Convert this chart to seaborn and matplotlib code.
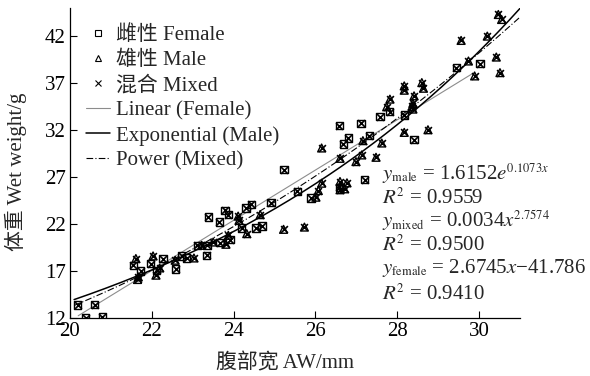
import numpy as np
import pandas as pd
import matplotlib
matplotlib.use("Agg")
import matplotlib.pyplot as plt
import seaborn as sns
from matplotlib.lines import Line2D
try:
    import matplotlib._mathtext as _mt
    _mt.SHRINK_FACTOR = 0.6
except Exception:
    pass

# ---- data ----
female_x = [20.19, 20.38, 20.60, 20.79, 21.55, 21.73, 21.97, 22.27, 22.12, 22.58,
            22.73, 22.85, 23.11, 23.34, 23.35, 23.38, 23.65, 23.67, 23.79, 23.87,
            23.91, 24.20, 24.30, 24.43, 24.55, 24.69, 24.91, 25.23, 25.56, 25.89,
            26.58, 27.20, 26.58, 26.68, 26.80, 27.11, 27.32, 27.58, 27.81, 28.17,
            28.41, 29.44, 30.02]
female_y = [13.38, 12.03, 13.41, 12.14, 17.62, 17.02, 17.80, 18.33, 17.09, 17.20,
            18.61, 18.39, 19.74, 18.68, 19.74, 22.74, 22.21, 20.03, 23.45, 23.00,
            20.35, 21.58, 23.70, 24.09, 21.58, 21.79, 24.27, 27.80, 25.47, 24.76,
            25.92, 26.71, 32.47, 30.53, 31.16, 32.71, 31.41, 33.42, 33.95, 33.60,
            30.98, 38.65, 39.07]
male_x = [21.61, 21.67, 21.65, 22.03, 22.10, 22.19, 22.57, 23.03, 23.22, 23.50,
          23.81, 23.87, 24.11, 24.13, 24.32, 24.65, 25.22, 25.73, 26.01, 26.07,
          26.15, 26.15, 26.60, 26.60, 26.77, 26.71, 26.60, 26.99, 27.13, 27.16,
          27.48, 27.62, 27.74, 27.82, 28.17, 28.17, 28.17, 28.38, 28.36, 28.38,
          28.41, 28.60, 28.64, 28.75, 29.56, 29.74, 29.89, 30.20, 30.42, 30.47,
          30.55, 30.51]
male_y = [18.33, 16.38, 16.10, 18.61, 16.56, 17.33, 18.15, 18.39, 19.74, 20.09,
          19.85, 20.80, 22.85, 22.39, 20.98, 23.00, 21.44, 21.68, 24.86, 25.57,
          26.35, 30.10, 26.53, 25.65, 26.39, 25.75, 29.00, 28.65, 29.36, 30.88,
          29.11, 30.63, 34.48, 35.30, 31.76, 36.71, 36.25, 34.85, 34.53, 34.24,
          35.65, 37.06, 36.46, 32.04, 41.55, 39.36, 37.77, 42.01, 39.78, 44.31,
          43.78, 38.12]

# fitted models shown on the chart
lin_slope, lin_icpt = 2.6745, -41.786          # female linear
exp_a, exp_b = 1.6152, 0.1073                  # male exponential
pow_a, pow_b = 0.0034, 2.7574                  # mixed power
fit_ranges = {"female": (20.2, 29.85), "male": (20.1, 31.0), "mixed": (20.1, 31.0)}

x_ticks = [20, 22, 24, 26, 28, 30]
y_ticks = [12, 17, 22, 27, 32, 37, 42]

sns.set_style("ticks")
plt.rcParams["font.family"] = ["Liberation Serif", "Noto Sans CJK SC"]
plt.rcParams["mathtext.fontset"] = "stix"

W, H = 590, 376
fig = plt.figure(figsize=(W / 100, H / 100), dpi=100)
ax = fig.add_axes([70 / W, 1 - 318 / H, 450 / W, 310 / H])

df_f = pd.DataFrame({"x": female_x, "y": female_y})
df_m = pd.DataFrame({"x": male_x, "y": male_y})
df_mix = pd.concat([df_f, df_m], ignore_index=True)

sns.scatterplot(data=df_f, x="x", y="y", marker="s", s=28, facecolor="none",
                edgecolor="black", linewidth=1.0, ax=ax, zorder=3)
sns.scatterplot(data=df_m, x="x", y="y", marker="^", s=32, facecolor="none",
                edgecolor="black", linewidth=1.0, ax=ax, zorder=3)
sns.scatterplot(data=df_mix, x="x", y="y", marker="x", s=24, color="black",
                linewidth=1.2, ax=ax, zorder=4)

dashdot = (0, (6, 2, 1, 2))
xf = np.linspace(*fit_ranges["female"], 100)
xm = np.linspace(*fit_ranges["male"], 200)
xx = np.linspace(*fit_ranges["mixed"], 200)
sns.lineplot(x=xf, y=lin_slope * xf + lin_icpt, color="0.55", lw=0.8, ax=ax)
sns.lineplot(x=xm, y=exp_a * np.exp(exp_b * xm), color="black", lw=1.1, ax=ax)
sns.lineplot(x=xx, y=pow_a * xx ** pow_b, color="black", lw=0.8,
             linestyle=dashdot, ax=ax)

ax.set_xlim(20, 31)
ax.set_ylim(12, 45)
ax.set_xticks(x_ticks)
ax.set_yticks(y_ticks)
ax.tick_params(direction="in", length=5, width=0.8, labelsize=15, colors="black",
               pad=3)
for s in ["top", "right"]:
    ax.spines[s].set_visible(False)
for s in ["left", "bottom"]:
    ax.spines[s].set_linewidth(0.9)
    ax.spines[s].set_color("black")

ax.set_xlabel("腹部宽 AW/mm", fontsize=15, labelpad=4)
ax.xaxis.set_label_coords(0.478, -0.115)
ax.set_ylabel("体重 Wet weight/g", fontsize=15, labelpad=4)
ax.yaxis.set_label_coords(-0.095, 0.47)

handles = [
    Line2D([], [], marker="s", ls="none", mfc="none", mec="black", ms=4, mew=0.8),
    Line2D([], [], marker="^", ls="none", mfc="none", mec="black", ms=4, mew=0.8),
    Line2D([], [], marker="x", ls="none", color="black", ms=4, mew=0.8),
    Line2D([], [], color="0.55", lw=0.8),
    Line2D([], [], color="black", lw=1.1),
    Line2D([], [], color="black", lw=0.8, linestyle=dashdot),
]
labels = ["雌性 Female", "雄性 Male", "混合 Mixed", "Linear (Female)",
          "Exponential (Male)", "Power (Mixed)"]
fig.legend(handles, labels, loc="upper left", bbox_to_anchor=(78 / W, 1 - 17 / H),
           bbox_transform=fig.transFigure, frameon=False, fontsize=15,
           handlelength=1.15, handletextpad=0.25, labelspacing=0.26,
           borderaxespad=0.0, borderpad=0.4)

eqs = [r"$y_{\mathrm{male}}$ = 1.6152$e^{0.1073x}$",
       r"$R^2$ = 0.9559",
       r"$y_{\mathrm{mixed}}$ = 0.0034$x^{2.7574}$",
       r"$R^2$ = 0.9500",
       r"$y_{\mathrm{female}}$ = 2.6745$x$−41.786",
       r"$R^2$ = 0.9410"]
ypos = [174, 198, 221, 245, 268, 294]
for t, yp in zip(eqs, ypos):
    fig.text(382 / W, 1 - yp / H, t, fontsize=15, va="center", ha="left")

fig.savefig("out.png", dpi=100)
